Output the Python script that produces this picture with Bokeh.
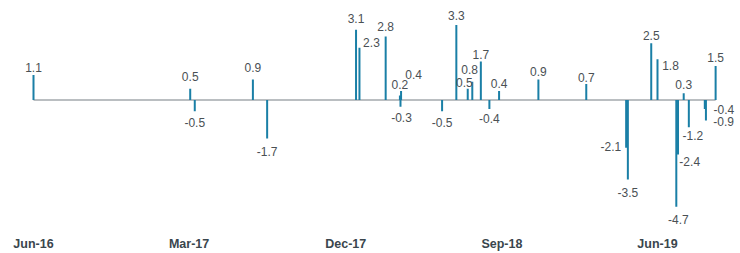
import datetime as dt
import pandas as pd
from bokeh.plotting import figure
from bokeh.models import ColumnDataSource, Range1d, FixedTicker, DatetimeTickFormatter
from bokeh.core.properties import value
from bokeh.embed import file_html
from bokeh.resources import INLINE

# ---- data ----
dates = ["2016-06-01", "2017-03-03", "2017-03-11", "2017-06-21", "2017-07-16",
         "2017-12-19", "2017-12-25", "2018-02-09", "2018-03-06", "2018-03-07",
         "2018-03-08", "2018-05-19", "2018-06-13", "2018-07-03", "2018-07-11",
         "2018-07-26", "2018-08-10", "2018-08-27", "2018-11-04", "2019-01-27",
         "2019-04-07", "2019-04-10", "2019-05-21", "2019-06-01", "2019-07-04",
         "2019-07-07", "2019-07-17", "2019-07-26", "2019-08-23", "2019-08-25",
         "2019-09-11"]
values = [1.1, 0.5, -0.5, 0.9, -1.7,
          3.1, 2.3, 2.8, 0.2, -0.3,
          0.4, -0.5, 3.3, 0.5, 0.8,
          1.7, -0.4, 0.4, 0.9, 0.7,
          -2.1, -3.5, 2.5, 1.8, -4.7,
          -2.4, 0.3, -1.2, -0.4, -0.9,
          1.5]
tick_dates = ["2016-06-01", "2017-03-01", "2017-12-01", "2018-09-01", "2019-06-01"]
tick_labels = ["Jun-16", "Mar-17", "Dec-17", "Sep-18", "Jun-19"]

# ---- label placement (screen pixel offsets, style only) ----
label_dx = [0, 0, 0, 0, 0,
            0, 12, 0, 0, 1,
            12.6, 0, 0, -3.4, -2.7,
            0, 0, 0, 0, 0,
            -15.3, 0, 0, 13, 2,
            11.7, 0, 4, 19, 17.7,
            0]
label_dy = [-8, -12, 11, -12, 13,
            -11.5, -5, -10, -11, 10.5,
            -16, 11.5, -10, -6.5, -12,
            -7, 9, -7, -8.5, -7,
            -1.5, 13, -7.5, 6, 13,
            7, -8.5, 8, 0, 1.5,
            -8]

BAR = "#1a7fa6"
ZERO = "#a3a9ac"
LABEL = "#4a5054"
TICK = "#3a464d"

x = pd.to_datetime(dates)
src = ColumnDataSource(dict(
    x=x, y=values, y0=[0] * len(values),
    txt=[f"{v:.1f}" for v in values],
    dx=label_dx, dy=label_dy,
))

px_per_day = 0.56986
origin = dt.datetime(2016, 6, 1)
x_start = origin - dt.timedelta(days=33 / px_per_day)
x_end = x_start + dt.timedelta(days=740 / px_per_day)

scale = 22.7
y_top = 99.5 / scale
y_bot = -(225 - 99.5) / scale

p = figure(width=740, height=253, output_backend="svg", toolbar_location=None,
           x_axis_type="datetime",
           x_range=Range1d(x_start, x_end), y_range=Range1d(y_bot, y_top),
           min_border_left=0, min_border_right=0, min_border_top=0,
           min_border_bottom=28)
p.outline_line_color = None
p.grid.visible = False
p.yaxis.visible = False
p.background_fill_color = "white"
p.border_fill_color = "white"

# zero baseline from first to last observation
p.line(x=[x.min(), x.max()], y=[0, 0], line_color=ZERO, line_width=1.6)

p.segment(x0="x", y0="y0", x1="x", y1="y", source=src,
          line_color=BAR, line_width=2, line_cap="butt")

p.text(x="x", y="y", text="txt", source=src, x_offset="dx", y_offset="dy",
       text_align="center", text_baseline="middle",
       text_font=value("Liberation Sans"), text_font_size="12px",
       text_color=LABEL)

ax = p.xaxis[0]
ax.ticker = FixedTicker(ticks=[pd.Timestamp(d).value / 1e6 for d in tick_dates])
fmt = "%b-%y"
ax.formatter = DatetimeTickFormatter(years=fmt, months=fmt, days=fmt, hours=fmt,
                                     minutes=fmt, seconds=fmt)
ax.axis_line_color = None
ax.major_tick_line_color = None
ax.minor_tick_line_color = None
ax.major_label_standoff = 5
ax.major_label_text_font = "Liberation Sans"
ax.major_label_text_font_style = "bold"
ax.major_label_text_font_size = "12.5px"
ax.major_label_text_color = TICK

open("out.html", "w").write(file_html(p, INLINE))
